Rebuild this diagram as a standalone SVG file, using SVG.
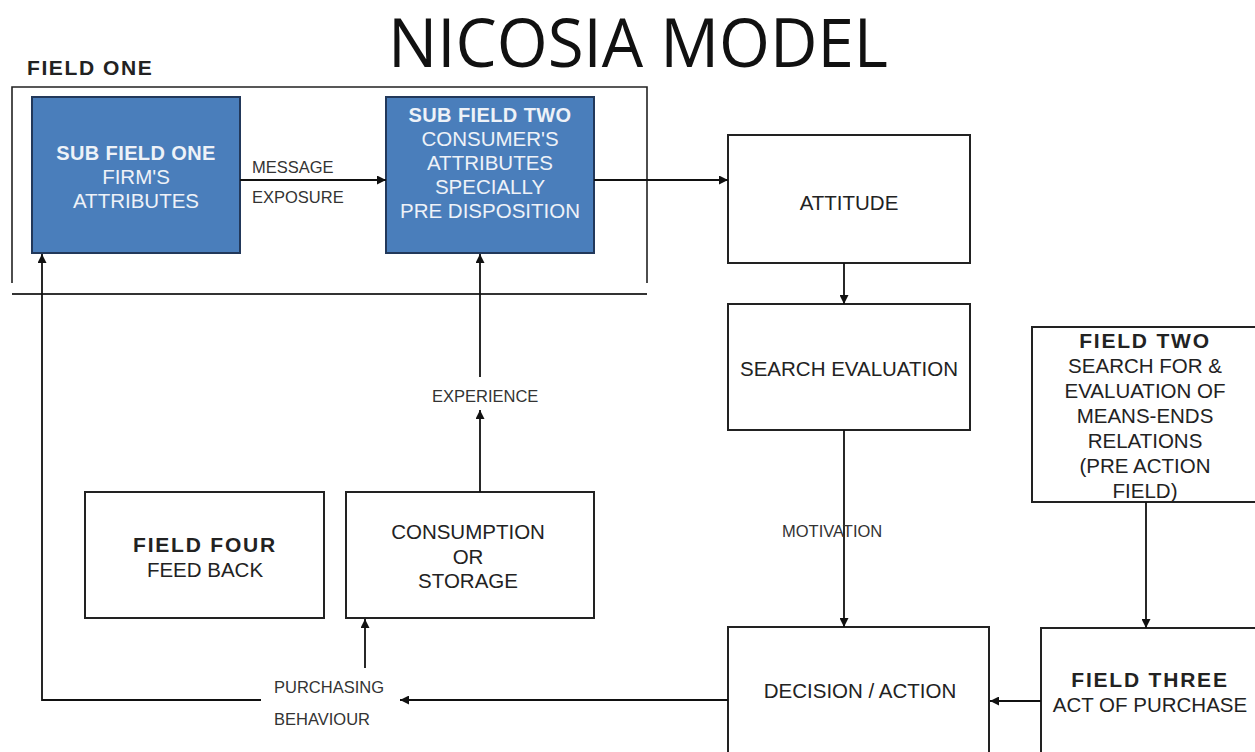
<svg xmlns="http://www.w3.org/2000/svg" width="1255" height="752" viewBox="0 0 1255 752">
<defs>
<marker id="ah" viewBox="0 0 10 10" refX="10" refY="5" markerWidth="9" markerHeight="9" markerUnits="userSpaceOnUse" orient="auto">
<path d="M0,0 L10,5 L0,10 Z" fill="#111"/>
</marker>
</defs>
<style>
.t{font-family:"Liberation Sans",Arial,sans-serif;text-anchor:middle;fill:#222}
.r{font-size:20.5px}
.b{font-size:21px;font-weight:bold;letter-spacing:1.8px}
.w{fill:#eef2f8}
.lbl{font-family:"Liberation Sans",Arial,sans-serif;font-size:16.5px;fill:#333}
.box{fill:#fff;stroke:#222;stroke-width:2}
.blue{fill:#4a7ebb;stroke:#22385a;stroke-width:2}
.c{fill:none;stroke:#111;stroke-width:1.8}
</style>
<rect width="1255" height="752" fill="#fff"/>
<text x="638" y="67" font-family="'Open Sans','Noto Sans',sans-serif" font-size="68" fill="#111" text-anchor="middle" textLength="500" lengthAdjust="spacingAndGlyphs">NICOSIA MODEL</text>

<g id="field-one">
<text x="27" y="75" font-family="'Liberation Sans',Arial,sans-serif" font-size="21" font-weight="bold" letter-spacing="1.6" fill="#222">FIELD ONE</text>
<path d="M12,283 V87 H647 V283" fill="none" stroke="#222" stroke-width="1.6"/>
<line x1="12" y1="294" x2="647" y2="294" stroke="#333" stroke-width="2.2"/>
</g>

<g id="sub-field-one">
<rect class="blue" x="32" y="97" width="208" height="156"/>
<text class="t w" x="136" y="160" font-size="20" font-weight="bold" letter-spacing="0.4">SUB FIELD ONE</text>
<text class="t w r" x="136" y="184">FIRM'S</text>
<text class="t w r" x="136" y="208">ATTRIBUTES</text>
</g>

<g id="sub-field-two">
<rect class="blue" x="386" y="97" width="208" height="156"/>
<text class="t w" x="490" y="122" font-size="20" font-weight="bold" letter-spacing="0.4">SUB FIELD TWO</text>
<text class="t w r" x="490" y="146">CONSUMER'S</text>
<text class="t w r" x="490" y="170">ATTRIBUTES</text>
<text class="t w r" x="490" y="194">SPECIALLY</text>
<text class="t w r" x="490" y="218">PRE DISPOSITION</text>
</g>

<g id="attitude">
<rect class="box" x="728" y="135" width="242" height="128"/>
<text class="t r" x="849" y="210">ATTITUDE</text>
</g>

<g id="search-evaluation">
<rect class="box" x="728" y="304" width="242" height="126"/>
<text class="t r" x="849" y="376">SEARCH EVALUATION</text>
</g>

<g id="field-two">
<rect class="box" x="1032" y="327" width="240" height="175"/>
<text class="t b" x="1145" y="348">FIELD TWO</text>
<text class="t r" x="1145" y="373">SEARCH FOR &amp;</text>
<text class="t r" x="1145" y="398">EVALUATION OF</text>
<text class="t r" x="1145" y="423">MEANS-ENDS</text>
<text class="t r" x="1145" y="448">RELATIONS</text>
<text class="t r" x="1145" y="473">(PRE ACTION</text>
<text class="t r" x="1145" y="498">FIELD)</text>
</g>

<g id="field-four">
<rect class="box" x="85" y="492" width="239" height="126"/>
<text class="t b" x="205" y="552">FIELD FOUR</text>
<text class="t r" x="205" y="577">FEED BACK</text>
</g>

<g id="consumption">
<rect class="box" x="346" y="492" width="248" height="126"/>
<text class="t r" x="468" y="539">CONSUMPTION</text>
<text class="t r" x="468" y="564">OR</text>
<text class="t r" x="468" y="588">STORAGE</text>
</g>

<g id="decision">
<rect class="box" x="728" y="627" width="261" height="140"/>
<text class="t r" x="860" y="698">DECISION / ACTION</text>
</g>

<g id="field-three">
<rect class="box" x="1041" y="628" width="230" height="140"/>
<text class="t b" x="1150" y="687">FIELD THREE</text>
<text class="t r" x="1150" y="712">ACT OF PURCHASE</text>
</g>

<g id="connectors">
<line class="c" x1="240" y1="180" x2="386" y2="180" marker-end="url(#ah)"/>
<line class="c" x1="594" y1="180" x2="728" y2="180" marker-end="url(#ah)"/>
<line class="c" x1="844" y1="263" x2="844" y2="304" marker-end="url(#ah)"/>
<line class="c" x1="844" y1="430" x2="844" y2="627" marker-end="url(#ah)"/>
<line class="c" x1="1146" y1="502" x2="1146" y2="628" marker-end="url(#ah)"/>
<line class="c" x1="1041" y1="701" x2="990" y2="701" marker-end="url(#ah)"/>
<line class="c" x1="728" y1="700" x2="400" y2="700" marker-end="url(#ah)"/>
<path class="c" d="M261,700 H42 V254" marker-end="url(#ah)"/>
<line class="c" x1="365" y1="668" x2="365" y2="619" marker-end="url(#ah)"/>
<line class="c" x1="480" y1="492" x2="480" y2="410" marker-end="url(#ah)"/>
<line class="c" x1="480" y1="377" x2="480" y2="254" marker-end="url(#ah)"/>
<text class="lbl" x="252" y="173">MESSAGE</text>
<text class="lbl" x="252" y="203">EXPOSURE</text>
<text class="lbl" x="432" y="402">EXPERIENCE</text>
<text class="lbl" x="782" y="537">MOTIVATION</text>
<text class="lbl" x="274" y="693">PURCHASING</text>
<text class="lbl" x="274" y="725">BEHAVIOUR</text>
</g>
</svg>
